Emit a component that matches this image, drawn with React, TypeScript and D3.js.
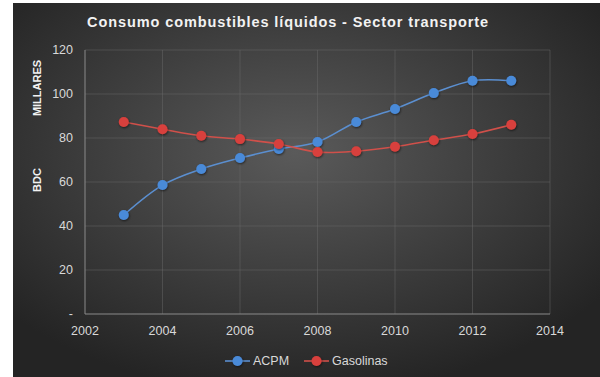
import React from "react";
import * as d3 from "d3";

const years = [2003, 2004, 2005, 2006, 2007, 2008, 2009, 2010, 2011, 2012, 2013];
const acpm = [45, 58.6, 65.9, 70.9, 75, 78.2, 87.3, 93.2, 100.4, 106, 106];
const gasolinas = [87.3, 84, 81, 79.5, 77.3, 73.6, 74, 76, 79, 81.8, 86];
const xTicks = [2002, 2004, 2006, 2008, 2010, 2012, 2014];
const yTicks = [0, 20, 40, 60, 80, 100, 120];
const seriesNames = ["ACPM", "Gasolinas"];
const seriesColors = ["#4a8ad8", "#d8403c"];
const lineColors = ["#5b8fd0", "#d0504a"];

export default function App() {
  const W = 600, H = 377;
  const x = d3.scaleLinear().domain([2002, 2014]).range([85, 550]);
  const y = d3.scaleLinear().domain([0, 120]).range([314, 50]);
  const line = d3
    .line<[number, number]>()
    .x((d) => x(d[0]))
    .y((d) => y(d[1]))
    .curve(d3.curveCatmullRom.alpha(0.5));
  const data = [acpm, gasolinas];
  const font = "'Liberation Sans', Arial, sans-serif";
  return (
    <svg
      width={W}
      height={H}
      style={{ position: "absolute", left: 0, top: 0 }}
      fontFamily={font}
    >
      <defs>
        <radialGradient id="bg" cx="48%" cy="40%" r="65%">
          <stop offset="0%" stopColor="#5a5a5a" />
          <stop offset="100%" stopColor="#242424" />
        </radialGradient>
        <filter id="sh" x="-50%" y="-50%" width="200%" height="200%">
          <feDropShadow dx="0.6" dy="1" stdDeviation="0.8" floodColor="#000" floodOpacity="0.6" />
        </filter>
      </defs>
      <rect x={0} y={0} width={W} height={H} fill="#ffffff" />
      <rect x={13} y={3} width={W - 13} height={H - 3} fill="url(#bg)" />
      <text
        x={288}
        y={27}
        textAnchor="middle"
        fill="#f2f2f2"
        fontSize={14.5}
        fontWeight="bold"
        letterSpacing={0.9}
      >
        Consumo combustibles líquidos - Sector transporte
      </text>
      {yTicks.slice(1).map((t) => (
        <line key={"gy" + t} x1={x(2002)} x2={x(2014)} y1={y(t)} y2={y(t)} stroke="#6a6a6a" strokeOpacity={0.45} strokeWidth={1} />
      ))}
      {xTicks.slice(1).map((t) => (
        <line key={"gx" + t} x1={x(t)} x2={x(t)} y1={y(0)} y2={y(120)} stroke="#6a6a6a" strokeOpacity={0.45} strokeWidth={1} />
      ))}
      <line x1={x(2002)} x2={x(2002)} y1={y(0)} y2={y(120)} stroke="#8a8a8a" strokeWidth={1} />
      <line x1={x(2002)} x2={x(2014)} y1={y(0)} y2={y(0)} stroke="#8a8a8a" strokeWidth={1} />
      {yTicks.map((t) => (
        <text key={"ty" + t} x={73} y={y(t) + 4} textAnchor="end" fill="#d9d9d9" fontSize={12.5}>
          {t === 0 ? "-" : t}
        </text>
      ))}
      {xTicks.map((t) => (
        <text key={"tx" + t} x={x(t)} y={335} textAnchor="middle" fill="#d9d9d9" fontSize={12.5}>
          {t}
        </text>
      ))}
      <text transform="translate(41,88) rotate(-90)" textAnchor="middle" fill="#f2f2f2" fontSize={11} fontWeight="bold">
        MILLARES
      </text>
      <text transform="translate(41,180) rotate(-90)" textAnchor="middle" fill="#f2f2f2" fontSize={11} fontWeight="bold">
        BDC
      </text>
      {data.map((vals, i) => (
        <g key={"s" + i}>
          <path
            d={line(years.map((yr, j) => [yr, vals[j]] as [number, number])) || ""}
            fill="none"
            stroke={lineColors[i]}
            strokeWidth={1.6}
          />
          {years.map((yr, j) => (
            <circle key={j} cx={x(yr)} cy={y(vals[j])} r={5} fill={seriesColors[i]} filter="url(#sh)" />
          ))}
        </g>
      ))}
      {seriesNames.map((n, i) => {
        const lx = i === 0 ? 225 : 304;
        return (
          <g key={"l" + i}>
            <line x1={lx} x2={lx + 25} y1={361} y2={361} stroke={lineColors[i]} strokeWidth={1.6} />
            <circle cx={lx + 12.5} cy={361} r={5} fill={seriesColors[i]} filter="url(#sh)" />
            <text x={lx + 28} y={365} fill="#d9d9d9" fontSize={12.5}>
              {n}
            </text>
          </g>
        );
      })}
    </svg>
  );
}
